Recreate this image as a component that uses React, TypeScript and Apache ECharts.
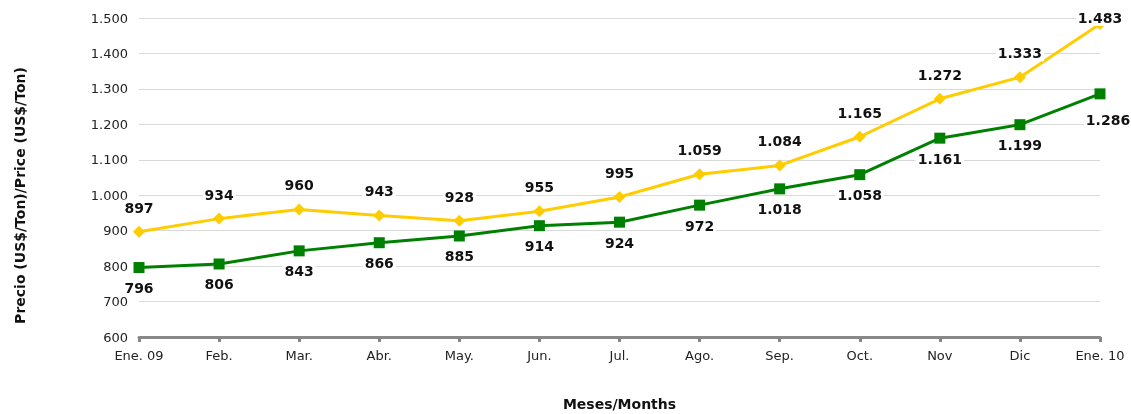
import React, { useEffect, useRef } from "react";
import * as echarts from "echarts";

const months = ["Ene. 09", "Feb.", "Mar.", "Abr.", "May.", "Jun.", "Jul.", "Ago.", "Sep.", "Oct.", "Nov", "Dic", "Ene. 10"];
const yellowValues = [897, 934, 960, 943, 928, 955, 995, 1059, 1084, 1165, 1272, 1333, 1483];
const greenValues = [796, 806, 843, 866, 885, 914, 924, 972, 1018, 1058, 1161, 1199, 1286];
const yTicks = { min: 600, max: 1500, interval: 100 };

const fmt = (v: number) => {
  const s = String(Math.round(v));
  return s.replace(/\B(?=(\d{3})+(?!\d))/g, ".");
};

const FONT = "DejaVu Sans";

export default function App() {
  const ref = useRef<HTMLDivElement>(null);
  useEffect(() => {
    if (!ref.current) return;
    const chart = echarts.init(ref.current, undefined, { renderer: "svg" });
    const labelBase = {
      show: true,
      fontFamily: FONT,
      fontWeight: "bold" as const,
      fontSize: 14,
      color: "#111",
      backgroundColor: "#fff",
      padding: [1, 2],
      formatter: (p: any) => fmt(p.value),
    };
    const yellowData = yellowValues.map((v, i) =>
      i === yellowValues.length - 1
        ? { value: v, label: { offset: [0, 18] } }
        : { value: v }
    );
    const greenData = greenValues.map((v, i) =>
      i === greenValues.length - 1
        ? { value: v, label: { offset: [8, 6] } }
        : { value: v }
    );
    chart.setOption({
      animation: false,
      grid: { left: 139, right: 31, top: 18, bottom: 77, outerBoundsMode: "none", containLabel: false },
      xAxis: {
        type: "category",
        data: months,
        boundaryGap: false,
        name: "Meses/Months",
        nameLocation: "middle",
        nameGap: 60,
        nameTextStyle: { fontFamily: FONT, fontWeight: "bold", fontSize: 14, color: "#111" },
        axisLine: { lineStyle: { color: "#888", width: 3 } },
        axisTick: { show: true, alignWithLabel: true, length: 5, lineStyle: { color: "#888", width: 3 } },
        axisLabel: { fontFamily: FONT, fontSize: 13, color: "#222", margin: 12 },
        splitLine: { show: false },
      },
      yAxis: {
        type: "value",
        min: yTicks.min,
        max: yTicks.max,
        interval: yTicks.interval,
        name: "Precio (US$/Ton)/Price (US$/Ton)",
        nameLocation: "middle",
        nameGap: 112,
        nameRotate: 90,
        nameTextStyle: { fontFamily: FONT, fontWeight: "bold", fontSize: 14, color: "#111", padding: [0, 36, 0, 0] },
        axisLine: { show: false },
        axisTick: { show: false },
        axisLabel: { fontFamily: FONT, fontSize: 13, color: "#222", margin: 11, formatter: (v: number) => fmt(v) },
        splitLine: { lineStyle: { color: "#d9d9d9", width: 1 } },
      },
      series: [
        {
          type: "line",
          data: yellowData,
          symbol: "diamond",
          symbolSize: 12,
          itemStyle: { color: "#FFCC00" },
          lineStyle: { color: "#FFCC00", width: 3 },
          label: { ...labelBase, position: "top", distance: 10 },
          z: 3,
        },
        {
          type: "line",
          data: greenData,
          symbol: "rect",
          symbolSize: 11,
          itemStyle: { color: "#008000" },
          lineStyle: { color: "#008000", width: 3 },
          label: { ...labelBase, position: "bottom", distance: 7 },
          z: 2,
        },
      ],
    });
    return () => chart.dispose();
  }, []);
  return <div ref={ref} style={{ position: "fixed", left: 0, top: 0, width: 1131, height: 414 }} />;
}
